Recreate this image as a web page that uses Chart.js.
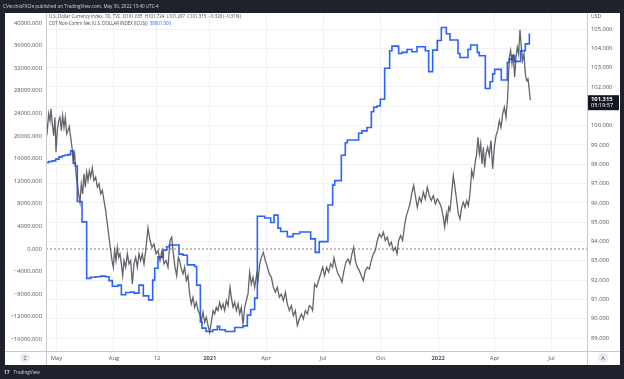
<!DOCTYPE html>
<html><head><meta charset="utf-8">
<script src="https://cdn.jsdelivr.net/npm/chart.js@4.4.1/dist/chart.umd.min.js"></script>
<style>html,body{margin:0;padding:0;background:#1e222d;}canvas{display:block;}</style>
</head><body>
<canvas id="c" width="624" height="379"></canvas>
<script>
// ---- data (x = weeks since 2020-04-07) ----
const dxyWeek = [
1.05,1.35,1.66,1.96,2.19,2.49,2.80,3.10,3.33,3.63,
3.94,4.24,4.55,4.85,5.16,5.46,5.77,6.07,6.37,6.68,
6.98,7.29,7.59,7.90,8.20,8.50,8.81,9.11,9.42,9.72,
10.03,10.33,10.64,10.94,11.25,11.62,12.00,12.39,12.77,13.15,
13.53,13.91,14.29,14.67,15.05,15.43,15.81,16.12,16.42,16.72,
17.03,17.33,17.64,17.94,18.25,18.55,18.86,19.24,19.62,20.00,
20.38,20.76,21.14,21.52,21.90,22.28,22.66,23.04,23.42,23.80,
24.33,24.79,25.25,25.70,26.16,26.62,27.07,27.53,27.99,28.44,
28.90,29.36,29.74,30.12,30.50,30.88,31.26,31.56,31.94,32.32,
32.70,33.08,33.46,33.84,34.22,34.60,34.98,35.37,35.75,36.13,
36.51,36.89,37.27,37.65,38.03,38.41,38.79,39.17,39.55,39.93,
40.31,40.69,41.07,41.45,41.83,42.22,42.60,43.05,43.36,43.74,
44.12,44.50,44.88,45.26,45.64,46.02,46.40,46.78,47.16,47.54,
47.92,48.30,48.68,49.14,49.45,49.83,50.21,50.66,51.12,51.58,
52.03,52.49,52.95,53.40,53.86,54.32,54.77,55.23,55.69,56.14,
56.60,57.06,57.51,57.97,58.42,58.88,59.34,59.79,60.25,60.71,
61.16,61.62,61.91,62.37,62.83,63.28,63.74,64.20,64.65,65.11,
65.57,66.02,66.48,66.78,67.24,67.70,68.15,68.61,69.07,69.52,
69.98,70.44,70.89,71.27,71.65,72.11,72.57,73.02,73.48,73.94,
74.39,74.85,75.31,75.76,76.22,76.68,77.13,77.59,78.05,78.50,
78.96,79.42,79.87,80.33,80.79,81.17,81.55,82.00,82.46,82.84,
83.22,83.68,84.13,84.59,84.97,85.35,85.81,86.27,86.72,87.18,
87.63,88.09,88.55,89.00,89.46,89.92,90.37,90.83,91.29,91.74,
92.05,92.43,92.65,92.96,93.26,93.64,94.02,94.40,94.79,95.17,
95.55,95.93,96.31,96.69,97.07,97.45,97.83,98.21,98.59,98.97,
99.35,99.66,99.96,100.26,100.57,100.87,101.18,101.48,101.86,102.24,
102.62,103.00,103.39,103.77,104.15,104.53,104.91,105.29,105.67,106.05,
106.43,106.81,107.11,107.42,107.72,108.03,108.33,108.64,108.94,109.24,
109.55,109.85,110.16,110.46,110.77,111.07,111.38,111.60
];
const dxyClose = [
100.26,99.74,100.61,100.26,100.87,100.09,99.48,100.43,98.62,99.74,
100.26,100.43,99.74,100.52,99.92,100.43,99.57,99.74,99.95,99.40,
98.88,98.19,98.54,97.50,96.98,96.46,96.03,96.98,96.46,97.50,
96.81,97.59,97.15,97.67,97.33,97.81,97.15,97.33,96.81,96.98,
96.46,96.64,96.12,95.60,94.91,94.22,93.53,93.01,92.67,93.53,
93.01,93.70,93.18,93.36,92.84,92.23,93.01,92.67,93.36,92.84,
93.01,91.80,92.84,93.18,92.67,93.36,93.01,93.36,92.84,93.53,
94.70,94.05,93.70,93.87,93.36,93.53,93.01,93.53,92.84,93.01,
92.67,94.05,94.22,93.36,92.67,92.23,93.18,93.01,92.58,92.32,
92.67,91.98,92.23,91.28,90.77,91.11,90.59,90.85,90.42,90.25,
89.90,90.34,89.82,90.08,89.65,89.30,89.82,90.42,90.25,90.59,
90.42,90.85,90.51,90.77,90.42,90.94,90.68,91.63,91.11,90.59,
90.85,90.42,90.77,90.25,90.59,89.70,90.59,90.94,91.28,92.41,
91.80,92.15,91.63,92.32,91.98,92.84,93.18,93.44,93.01,92.67,
92.32,92.15,91.63,91.37,91.63,91.11,91.28,90.94,91.37,90.77,
90.42,90.68,90.16,90.42,89.65,89.99,90.25,89.99,90.42,90.25,
90.68,90.59,90.42,91.80,91.63,91.98,92.32,92.67,92.23,92.67,
92.41,92.84,92.67,93.15,92.67,92.32,92.15,91.89,92.49,92.93,
93.10,92.84,93.36,93.70,93.01,92.67,92.49,92.23,91.98,92.49,
92.67,92.58,93.01,93.36,93.53,94.05,94.39,94.22,94.48,94.05,
94.22,93.79,93.96,93.53,93.70,93.36,94.05,94.31,94.05,94.74,
95.26,95.60,95.95,96.55,96.90,96.38,95.77,96.29,96.03,96.55,
96.20,96.81,96.38,96.12,96.38,95.95,96.20,96.03,95.77,95.26,
94.74,95.43,95.08,95.77,95.60,96.46,97.41,96.81,96.12,95.43,
95.17,95.77,96.03,95.77,96.12,95.86,96.46,97.67,97.33,98.02,
98.54,99.40,98.54,99.05,98.02,98.88,97.84,98.54,98.88,98.45,
99.23,97.76,98.88,99.48,99.74,100.26,99.92,100.61,100.95,100.43,
101.47,103.54,103.89,103.20,103.71,102.51,103.54,104.06,103.71,104.96,
104.06,103.37,103.71,102.68,102.33,102.42,101.82,101.315
];
const cotWeek = [
0.5,1.73,2.49,3.25,4.0,4.78,5.3,6.07,6.68,7.29,
7.74,8.2,9.27,10.33,11.25,12.39,13.53,14.67,15.43,16.19,
17.48,18.25,19.24,20.38,21.14,22.28,23.27,24.49,25.4,25.86,
26.62,27.38,27.83,28.6,29.2,31.41,32.32,33.31,34.98,35.44,
36.28,36.66,37.57,39.1,40.16,40.69,41.99,44.12,46.02,47.01,
47.77,48.68,49.29,50.97,52.34,53.1,54.01,54.62,56.14,57.44,
58.96,61.47,62.52,63.43,65.41,66.48,66.94,68.46,69.37,69.83,
72.41,73.18,74.32,75.31,75.84,76.6,77.36,78.35,79.49,80.02,
81.55,82.31,83.45,84.59,85.73,87.63,88.4,89.31,90.37,91.29,
92.43,93.26,95.09,95.55,97.37,97.98,99.5,99.96,101.33,102.4,
103.0,103.46,104.98,106.35,106.81,107.42,108.03,109.4,110.46,111.38,
111.6
];
const cotNet = [
15300,15500,15600,15900,16300,16500,16600,16700,17400,15200,
14700,8400,4800,-5200,-5000,-4900,-4800,-4900,-5600,-6600,
-6400,-8100,-7700,-7600,-7800,-6400,-8300,-9000,-5500,-3400,
-1400,-1500,-200,400,700,-900,-1100,-2800,-3100,-6400,
-12900,-14000,-14600,-14300,-13700,-14300,-14600,-13900,-13600,-11700,
-10700,-8700,5800,5500,4700,6000,3700,3100,2200,2700,
3000,1800,-600,1300,7800,11300,12100,16600,18800,19300,
20500,20900,21500,24300,25100,25300,26500,32000,35100,35900,
34600,34800,35300,34900,35800,35100,31400,35200,36900,39200,
38100,37000,34600,33900,35300,36100,34800,34200,28400,29600,
31000,31800,29900,33000,33600,34200,33200,35100,36300,38001,
38001
];
const xTickWeeks = [3.43,16.57,26.38,38.43,51.29,64.29,77.43,90.57,103.43,116.43];
const xTickLabels = ['May','Aug','12','2021','Apr','Jul','Oct','2022','Apr','Jul'];
const boldLabels = ['2021','2022'];
const leftTicks = [-16000,-12000,-8000,-4000,0,4000,8000,12000,16000,20000,24000,28000,32000,36000,40000];
const rightTicks = [89,90,91,92,93,94,95,96,97,98,99,100,101,102,103,104,105];
const zeroLevel = 0;
const lastPrice = 101.315;
const lastPriceText = '101.315';
const countdownText = '05:19:57';
const headerText = 'CVecchioFXCle published on TradingView.com, May 30, 2022 13:40 UTC-4';
const legend1 = 'U.S. Dollar Currency Index, 1D, TVC  O101.635  H101.724  L101.297  C101.315  \u22120.320 (\u22120.31%)';
const legend2 = 'COT Non-Comm Net (U.S. DOLLAR INDEX (ICUS))';
const legend2Value = '38001.000';

const X_MIN = 1.05, X_MAX = 124.54;
const FONT = "'Open Sans', 'DejaVu Sans', sans-serif";
const AXIS_COLOR = '#50535e';
const GRID = '#eef1f6';

const framePlugin = {
  id: 'frame',
  beforeDraw(chart) {
    const ctx = chart.ctx;
    ctx.save();
    ctx.fillStyle = '#1e222d';
    ctx.fillRect(0, 0, chart.width, chart.height);
    ctx.fillStyle = '#ffffff';
    ctx.fillRect(5, 13, 615, 352);
    ctx.restore();
  },
  afterDraw(chart) {
    const ctx = chart.ctx, ca = chart.chartArea;
    const yR = chart.scales.yR;
    ctx.save();
    ctx.strokeStyle = '#c6c9d1';
    ctx.lineWidth = 1;
    ctx.beginPath();
    ctx.moveTo(Math.round(ca.left) + 0.5, 13); ctx.lineTo(Math.round(ca.left) + 0.5, 365);
    ctx.moveTo(Math.round(ca.right) + 0.5, 13); ctx.lineTo(Math.round(ca.right) + 0.5, 365);
    ctx.moveTo(5, Math.round(ca.bottom) + 0.5); ctx.lineTo(620, Math.round(ca.bottom) + 0.5);
    ctx.stroke();

    ctx.textBaseline = 'middle';
    ctx.textAlign = 'left';
    ctx.fillStyle = '#d1d4dc';
    ctx.font = '4.6px ' + FONT;
    ctx.fillText(headerText, 3, 6.5);

    ctx.font = '4.4px ' + FONT;
    ctx.fillStyle = '#434651';
    ctx.fillText(legend1, ca.left + 3, 16.7);
    ctx.fillText(legend2, ca.left + 3, 23.4);
    const w2 = ctx.measureText(legend2 + '  ').width;
    ctx.fillStyle = '#2962ff';
    ctx.fillText(legend2Value, ca.left + 3 + w2, 23.4);

    ctx.fillStyle = AXIS_COLOR;
    ctx.font = '5px ' + FONT;
    ctx.fillText('USD', ca.right + 4, 16.5);

    const py = yR.getPixelForValue(lastPrice);
    ctx.fillStyle = '#131722';
    ctx.fillRect(ca.right + 1, py - 5, 31, 15);
    ctx.fillStyle = '#ffffff';
    ctx.font = 'bold 5.8px ' + FONT;
    ctx.fillText(lastPriceText, ca.right + 4, py - 1.2);
    ctx.font = '5.6px ' + FONT;
    ctx.fillText(countdownText, ca.right + 4, py + 5.6);

    ctx.textAlign = 'center';
    [[25, 'Z'], [603, 'A']].forEach(([bx, t]) => {
      ctx.fillStyle = '#e9ebf0';
      ctx.beginPath(); ctx.arc(bx, 358, 5, 0, Math.PI * 2); ctx.fill();
      ctx.fillStyle = AXIS_COLOR;
      ctx.font = '5.5px ' + FONT;
      ctx.fillText(t, bx, 358.3);
    });

    ctx.textAlign = 'left';
    ctx.fillStyle = '#d1d4dc';
    ctx.font = 'bold 5px ' + FONT;
    ctx.fillText('17', 4, 372.5);
    ctx.font = '4.6px ' + FONT;
    ctx.fillText('TradingView', 13.5, 372.5);
    ctx.restore();
  }
};

new Chart(document.getElementById('c'), {
  type: 'line',
  data: {
    datasets: [
      {
        label: 'DXY',
        data: dxyWeek.map((w, i) => ({ x: w, y: dxyClose[i] })),
        yAxisID: 'yR',
        borderColor: 'rgba(72,74,80,0.85)',
        borderWidth: 1.3,
        pointRadius: 0,
        tension: 0,
        order: 0
      },
      {
        label: 'COT',
        data: cotWeek.map((w, i) => ({ x: w, y: cotNet[i] })),
        yAxisID: 'yL',
        borderColor: '#2962ff',
        borderWidth: 1.6,
        pointRadius: 0,
        stepped: true,
        order: 1
      },
      {
        label: 'zero',
        data: [{ x: X_MIN, y: zeroLevel }, { x: X_MAX, y: zeroLevel }],
        yAxisID: 'yL',
        borderColor: '#7d8089',
        borderWidth: 1,
        borderDash: [2, 2],
        pointRadius: 0,
        order: 2
      }
    ]
  },
  options: {
    responsive: false,
    animation: false,
    devicePixelRatio: 1,
    layout: { padding: { left: 5, right: 4, top: 13, bottom: 14 } },
    plugins: { legend: { display: false }, tooltip: { enabled: false } },
    scales: {
      x: {
        type: 'linear',
        min: X_MIN, max: X_MAX,
        grid: { color: GRID, drawTicks: false },
        border: { display: false },
        afterBuildTicks: s => { s.ticks = xTickWeeks.map(v => ({ value: v })); },
        afterFit: s => { s.height = 14; },
        ticks: {
          autoSkip: false, maxRotation: 0, minRotation: 0, padding: 4,
          color: AXIS_COLOR,
          font: c => ({ family: FONT, size: 5.8, weight: boldLabels.includes(xTickLabels[c.index]) ? 'bold' : 'normal' }),
          callback: (v, i) => xTickLabels[i]
        }
      },
      yL: {
        type: 'linear', position: 'left',
        min: -18050, max: 41770,
        grid: { display: false, drawTicks: false },
        border: { display: false },
        afterBuildTicks: s => { s.ticks = leftTicks.map(v => ({ value: v })); },
        afterFit: s => { s.width = 41; },
        ticks: {
          padding: 4, color: AXIS_COLOR,
          font: { family: FONT, size: 5.8 },
          callback: v => (v < 0 ? '\u2212' + Math.abs(v).toFixed(3) : v.toFixed(3))
        }
      },
      yR: {
        type: 'linear', position: 'right',
        min: 88.33, max: 105.83,
        grid: { color: GRID, drawTicks: false },
        border: { display: false },
        afterBuildTicks: s => { s.ticks = rightTicks.map(v => ({ value: v })); },
        afterFit: s => { s.width = 33; },
        ticks: {
          padding: 4, color: AXIS_COLOR,
          font: { family: FONT, size: 5.8 },
          callback: v => v.toFixed(3)
        }
      }
    }
  },
  plugins: [framePlugin]
});
</script>
</body></html>
